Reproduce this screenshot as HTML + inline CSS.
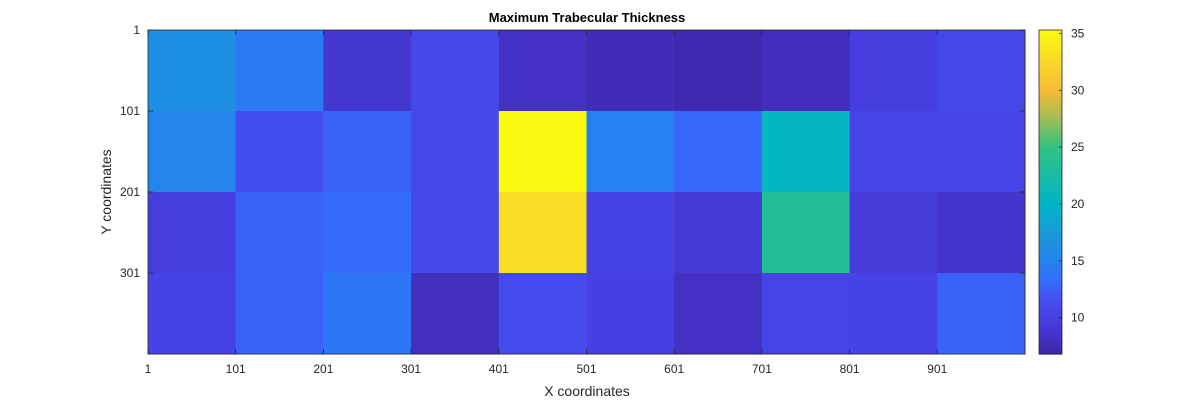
<!DOCTYPE html>
<html><head><meta charset="utf-8"><style>
body{margin:0;background:#fff;font-family:"Liberation Sans",Arial,sans-serif;}
svg text{font-family:"Liberation Sans",Arial,sans-serif;}
</style></head><body>
<svg id="chart" width="1200" height="400" xmlns="http://www.w3.org/2000/svg">
<rect width="1200" height="400" fill="#fff"/>
<text x="587" y="22" text-anchor="middle" font-size="13" font-weight="bold" fill="#000">Maximum Trabecular Thickness</text>
<g id="cells"></g>
<g id="axes"></g>
<g id="cbar"></g>
</svg>
<script>
const xTickLabels = ["1","101","201","301","401","501","601","701","801","901"];
const yTickLabels = ["1","101","201","301"];
const cbarTicks = [10,15,20,25,30,35];
const row1 = [16.3,14.2,9,11,8.3,7.6,7.2,7.9,9.8,10.8];
const row2 = [15.3,11.5,12.8,11,35.2,14.8,13,20.5,10.5,10.5];
const row3 = [9.8,12.8,13.2,11,33,10.3,9.3,23.5,9.5,8.8];
const row4 = [10.3,12.8,14,8,11.3,10,8.3,10.5,10.3,12.8];
const rows = [row1,row2,row3,row4];
const vmin = 6.8, vmax = 35.3;

const NS="http://www.w3.org/2000/svg";
const L=148,R=1025,T=30,B=354;
const cw=(R-L)/10, rh=(B-T)/4;
const stops=[[0,[62,38,168]],[0.11,[70,62,225]],[0.18,[68,82,242]],[0.23,[50,110,250]],[0.3,[35,135,235]],[0.38,[25,155,215]],[0.46,[0,180,200]],[0.64,[50,195,130]],[0.72,[150,190,90]],[0.81,[245,185,55]],[0.9,[250,215,40]],[1,[249,251,14]]];
function cmap(v){let t=(v-vmin)/(vmax-vmin);t=Math.max(0,Math.min(1,t));
 for(let i=1;i<stops.length;i++){if(t<=stops[i][0]){const a=stops[i-1],b=stops[i];const f=(t-a[0])/(b[0]-a[0]);
 const c=a[1].map((x,k)=>Math.round(x+(b[1][k]-x)*f));return `rgb(${c})`;}}return "rgb(249,251,14)";}
function xs(i){return L+i*cw;} function ys(j){return T+j*rh;}
function mk(tag,attrs,parent){const e=document.createElementNS(NS,tag);for(const k in attrs)e.setAttribute(k,attrs[k]);parent.appendChild(e);return e;}
const cells=document.getElementById('cells');
rows.forEach((r,j)=>r.forEach((v,i)=>{
 const e=mk('rect',{x:xs(i),y:ys(j),width:cw+0.5,height:rh+0.5,fill:cmap(v)},cells);
 
 
}));
const ax=document.getElementById('axes');
mk('rect',{x:L,y:T,width:R-L,height:B-T,fill:'none',stroke:'#262626','stroke-width':'0.8'},ax);
xTickLabels.forEach((lab,i)=>{
 mk('line',{x1:xs(i),x2:xs(i),y1:B,y2:B-5,stroke:'#262626','stroke-width':'0.8'},ax);
 mk('line',{x1:xs(i),x2:xs(i),y1:T,y2:T+5,stroke:'#262626','stroke-width':'0.8'},ax);
 const t=mk('text',{x:xs(i),y:373,'text-anchor':'middle','font-size':'12',fill:'#262626'},ax);t.textContent=lab;
 
 
});
yTickLabels.forEach((lab,j)=>{
 mk('line',{x1:L,x2:L+5,y1:ys(j),y2:ys(j),stroke:'#262626','stroke-width':'0.8'},ax);
 mk('line',{x1:R,x2:R-5,y1:ys(j),y2:ys(j),stroke:'#262626','stroke-width':'0.8'},ax);
 const t=mk('text',{x:140,y:ys(j)+4,'text-anchor':'end','font-size':'12',fill:'#262626'},ax);t.textContent=lab;
 
 
});
const xt=mk('text',{x:587,y:396,'text-anchor':'middle','font-size':'14',fill:'#262626'},ax);xt.textContent="X coordinates";


const yt=mk('text',{x:0,y:0,'text-anchor':'middle','font-size':'14',fill:'#262626',transform:'translate(111,192) rotate(-90)'},ax);yt.textContent="Y coordinates";


const cb=document.getElementById('cbar');
const CL=1039,CR=1062;
const cys=v=>B-(v-vmin)/(vmax-vmin)*(B-T);
for(let k=0;k<100;k++){const v0=vmin+(vmax-vmin)*k/100,v1=vmin+(vmax-vmin)*(k+1)/100;
 const e=mk('rect',{x:CL,y:cys(v1),width:CR-CL,height:cys(v0)-cys(v1)+0.6,fill:cmap((v0+v1)/2)},cb);
 
 
}
mk('rect',{x:CL,y:T,width:CR-CL,height:B-T,fill:'none',stroke:'#262626','stroke-width':'0.8'},cb);
cbarTicks.forEach(v=>{
 mk('line',{x1:CR-3,x2:CR,y1:cys(v),y2:cys(v),stroke:'#262626','stroke-width':'0.8'},cb);
 const t=mk('text',{x:1071,y:cys(v)+4,'font-size':'12',fill:'#262626'},cb);t.textContent=v;
 
 
});
</script>
</body></html>
